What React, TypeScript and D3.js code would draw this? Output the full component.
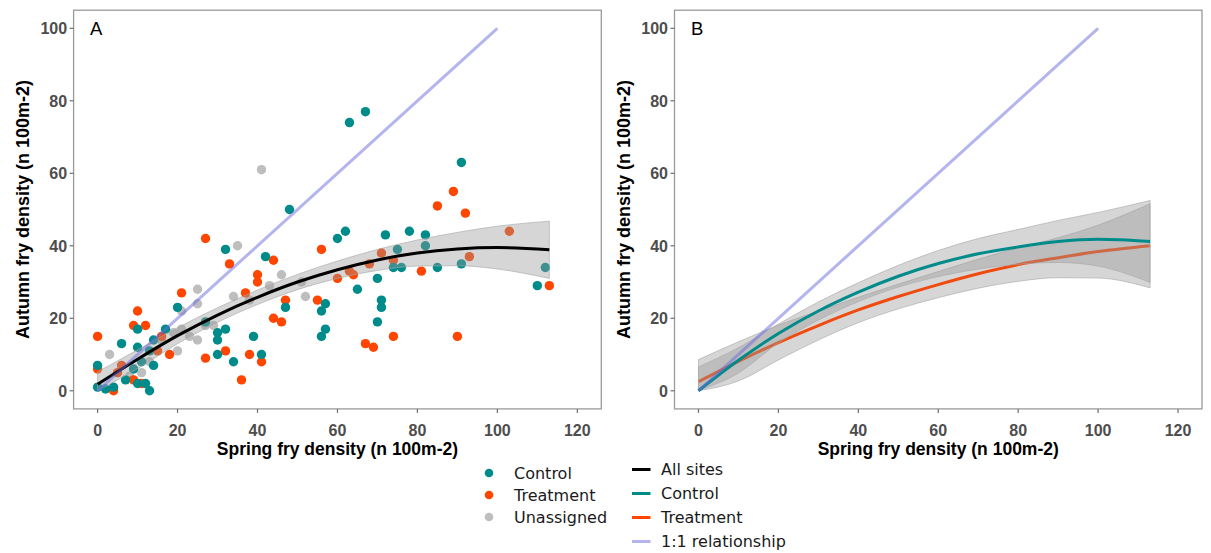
import React from "react";
import * as d3 from "d3";

const W = 1211;
const H = 553;

// Spring vs autumn fry densities (n per 100 m2), by site group
const controlSpring = [0, 0, 6, 10, 10, 14, 17, 13, 11, 9, 14, 7, 12, 10, 4, 2, 13, 20, 27, 30, 30, 32, 30, 34, 39, 41, 32, 48, 42, 47, 56, 57, 57, 56, 60, 62, 63, 67, 65, 70, 70, 71, 71, 72, 74, 76, 75, 78, 82, 82, 85, 91, 91, 110, 112];
const controlAutumn = [1, 7, 13, 17, 12, 14, 17, 11, 8, 6, 7, 3, 2, 2, 1, 0.5, 0, 23, 19, 16, 14, 17, 10, 8, 15, 10, 39, 50, 37, 23, 22, 24, 17, 15, 42, 44, 74, 77, 28, 31, 19, 25, 23, 43, 34, 34, 39, 44, 43, 40, 34, 35, 63, 29, 34];

const treatmentSpring = [0, 0, 4, 5, 6, 9, 9, 12, 10, 15, 18, 16, 11, 21, 27, 33, 37, 27, 32, 38, 41, 36, 40, 40, 44, 47, 44, 46, 55, 56, 60, 63, 64, 67, 69, 68, 71, 74, 74, 81, 85, 89, 92, 93, 90, 103, 113];
const treatmentAutumn = [15, 6, 0, 5, 7, 3, 18, 18, 22, 11, 10, 15, 2, 27, 42, 35, 27, 9, 11, 10, 8, 3, 32, 30, 36, 25, 20, 19, 25, 39, 31, 33, 32, 13, 12, 35, 38, 36, 15, 33, 51, 55, 49, 37, 15, 44, 29];

const unassignedSpring = [3, 41, 35, 25, 34, 25, 21, 43, 46, 51, 52, 38, 19, 21, 23, 25, 20, 16, 11, 27, 8, 13, 29];
const unassignedAutumn = [10, 61, 40, 28, 26, 24, 22, 29, 32, 30, 26, 25, 16, 17, 15, 14, 11, 14, 5, 18, 4, 8, 18];

// Fitted quadratic smooths with confidence half-widths
const fitX = [0, 10, 20, 30, 40, 50, 60, 70, 80, 90, 100, 113];
const allSitesFit = [1.8, 8.7, 15.2, 20.9, 25.8, 30.0, 33.4, 36.1, 38.0, 39.1, 39.5, 38.9];
const allSitesHalf = [3.4, 2.6, 2.2, 2.0, 2.0, 2.1, 2.4, 2.9, 3.6, 4.6, 5.9, 7.9];
const controlFit = [0, 8.4, 15.8, 22.0, 27.2, 31.6, 35.1, 37.8, 39.7, 41.2, 41.8, 41.2];
const controlHalf = [6.6, 3.5, 2.6, 2.5, 2.6, 3.0, 3.6, 4.2, 4.8, 5.8, 7.4, 11.3];
const treatmentFit = [2.5, 8.1, 13.3, 18.0, 22.3, 26.0, 29.3, 32.3, 34.8, 36.7, 38.4, 40.0];
const treatmentHalf = [6.1, 5.4, 4.8, 4.0, 3.5, 3.4, 3.6, 4.0, 4.6, 5.5, 7.3, 11.6];

// 1:1 reference line
const oneToOneX = [0, 100];

const xTicks = [0, 20, 40, 60, 80, 100, 120];
const yTicks = [0, 20, 40, 60, 80, 100];

const pointLegend = ["Control", "Treatment", "Unassigned"];
const lineLegend = ["All sites", "Control", "Treatment", "1:1 relationship"];

const TEAL = "#008b8b";
const ORANGE = "#ff4500";
const GREY = "#bebebe";
const LAVENDER = "#6a6ae0";
const AXIS_FONT = "'Liberation Sans', Arial, sans-serif";
const LEGEND_FONT = "'DejaVu Sans', Verdana, sans-serif";

const yScale = d3.scaleLinear().domain([-5, 105]).range([408.9, 10.2]);
const xScaleA = d3.scaleLinear().domain([-6, 126]).range([73.6, 601.3]);
const xScaleB = d3.scaleLinear().domain([-6, 126]).range([674.5, 1202]);

type Row = { x: number; y: number; lo: number; hi: number };

function rows(fit: number[], half: number[]): Row[] {
  return fitX.map((x, i) => ({
    x,
    y: fit[i],
    lo: Math.max(0, fit[i] - half[i]),
    hi: fit[i] + half[i],
  }));
}

function Panel({ xs, label }: { xs: d3.ScaleLinear<number, number>; label: string }) {
  const [x0, x1] = xs.range();
  const [y0, y1] = yScale.range();
  const cx = (x0 + x1) / 2;
  const cy = (y0 + y1) / 2;
  return (
    <g>
      <rect x={x0} y={y1} width={x1 - x0} height={y0 - y1} fill="white" stroke="#9a9a9a" strokeWidth={1.3} />
      {yTicks.map((t) => (
        <g key={"y" + t}>
          <line x1={x0 - 4} x2={x0} y1={yScale(t)} y2={yScale(t)} stroke="#6e6e6e" strokeWidth={1.2} />
          <text x={x0 - 6.5} y={yScale(t)} dy="0.36em" textAnchor="end" fontFamily={AXIS_FONT} fontWeight="bold" fontSize={16} fill="#4d4d4d">
            {t}
          </text>
        </g>
      ))}
      {xTicks.map((t) => (
        <g key={"x" + t}>
          <line x1={xs(t)} x2={xs(t)} y1={y0} y2={y0 + 4} stroke="#6e6e6e" strokeWidth={1.2} />
          <text x={xs(t)} y={435.5} textAnchor="middle" fontFamily={AXIS_FONT} fontWeight="bold" fontSize={16} fill="#4d4d4d">
            {t}
          </text>
        </g>
      ))}
      <text x={cx} y={455} textAnchor="middle" fontFamily={AXIS_FONT} fontWeight="bold" fontSize={17.5} fill="#000">
        Spring fry density (n 100m-2)
      </text>
      <text transform={`translate(${x0 - 45},${cy}) rotate(-90)`} textAnchor="middle" fontFamily={AXIS_FONT} fontWeight="bold" fontSize={18} fill="#000">
        Autumn fry density (n 100m-2)
      </text>
      <text x={x0 + 16.5} y={35} fontFamily={AXIS_FONT} fontSize={18.5} fill="#000">
        {label}
      </text>
    </g>
  );
}

function Ribbon({ xs, data }: { xs: d3.ScaleLinear<number, number>; data: Row[] }) {
  const area = d3
    .area<Row>()
    .x((d) => xs(d.x))
    .y0((d) => yScale(d.lo))
    .y1((d) => yScale(d.hi))
    .curve(d3.curveMonotoneX);
  return <path d={area(data) || ""} fill="#999999" fillOpacity={0.4} stroke="#a8a8a8" strokeOpacity={0.7} strokeWidth={0.9} />;
}

function Fit({ xs, data, color, width }: { xs: d3.ScaleLinear<number, number>; data: Row[]; color: string; width: number }) {
  const line = d3
    .line<Row>()
    .x((d) => xs(d.x))
    .y((d) => yScale(d.y))
    .curve(d3.curveMonotoneX);
  return <path d={line(data) || ""} fill="none" stroke={color} strokeWidth={width} />;
}

function OneToOne({ xs }: { xs: d3.ScaleLinear<number, number> }) {
  const line = d3
    .line<number>()
    .x((d) => xs(d))
    .y((d) => yScale(d));
  return <path d={line(oneToOneX) || ""} fill="none" stroke={LAVENDER} strokeOpacity={0.5} strokeWidth={3} />;
}

function Points({ xs, sx, sy, color }: { xs: d3.ScaleLinear<number, number>; sx: number[]; sy: number[]; color: string }) {
  return (
    <g>
      {sx.map((v, i) => (
        <circle key={i} cx={xs(v)} cy={yScale(sy[i])} r={4.7} fill={color} />
      ))}
    </g>
  );
}

export default function App() {
  const allRows = rows(allSitesFit, allSitesHalf);
  const controlRows = rows(controlFit, controlHalf);
  const treatmentRows = rows(treatmentFit, treatmentHalf);
  const pointColors = [TEAL, ORANGE, GREY];
  const lineColors = ["#000000", TEAL, ORANGE, "#b4b4f0"];

  return (
    <svg width={W} height={H} style={{ position: "absolute", left: 0, top: 0, background: "white" }}>
      {/* Panel A: observations with the all-sites smooth */}
      <Panel xs={xScaleA} label="A" />
      <Points xs={xScaleA} sx={unassignedSpring} sy={unassignedAutumn} color={GREY} />
      <Points xs={xScaleA} sx={treatmentSpring} sy={treatmentAutumn} color={ORANGE} />
      <Points xs={xScaleA} sx={controlSpring} sy={controlAutumn} color={TEAL} />
      <Ribbon xs={xScaleA} data={allRows} />
      <Fit xs={xScaleA} data={allRows} color="#000" width={3} />
      <OneToOne xs={xScaleA} />

      {/* Panel B: group smooths */}
      <Panel xs={xScaleB} label="B" />
      <Ribbon xs={xScaleB} data={treatmentRows} />
      <Fit xs={xScaleB} data={treatmentRows} color="#f04a0e" width={3} />
      <Ribbon xs={xScaleB} data={controlRows} />
      <Fit xs={xScaleB} data={controlRows} color={TEAL} width={3} />
      <OneToOne xs={xScaleB} />

      {/* Legends */}
      {pointLegend.map((name, i) => (
        <g key={name}>
          <circle cx={489} cy={473 + i * 22} r={4.3} fill={pointColors[i]} />
          <text x={514} y={478.5 + i * 22} fontFamily={LEGEND_FONT} fontSize={16} fill="#1a1a1a">
            {name}
          </text>
        </g>
      ))}
      {lineLegend.map((name, i) => (
        <g key={name}>
          <line x1={632} x2={650.5} y1={469.5 + i * 24} y2={469.5 + i * 24} stroke={lineColors[i]} strokeWidth={3} />
          <text x={661} y={475 + i * 24} fontFamily={LEGEND_FONT} fontSize={16} fill="#1a1a1a">
            {name}
          </text>
        </g>
      ))}
    </svg>
  );
}
